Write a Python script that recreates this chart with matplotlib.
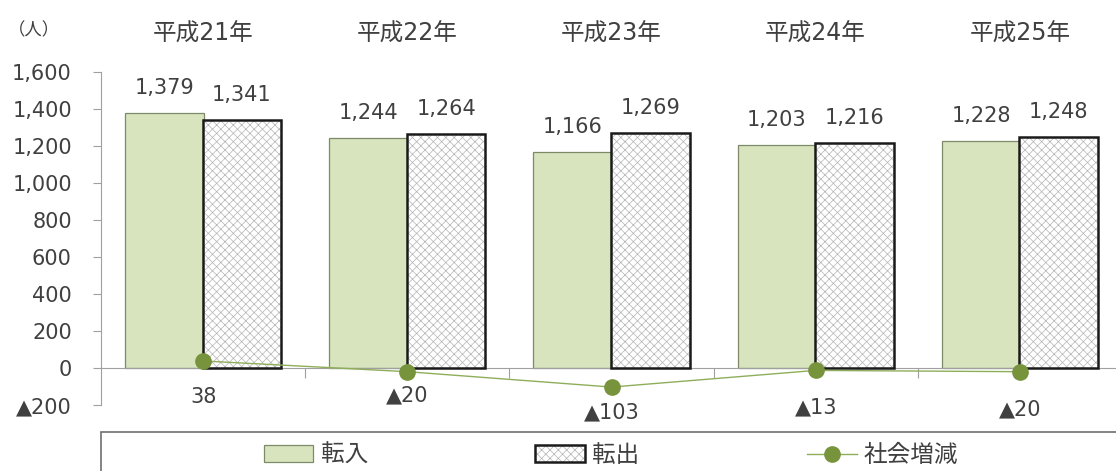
import matplotlib
matplotlib.use("Agg")
import matplotlib.pyplot as plt
from matplotlib.patches import Rectangle
from matplotlib.legend_handler import HandlerTuple
import numpy as np

plt.rcParams['font.family'] = ['DejaVu Sans', 'Noto Sans CJK JP']
plt.rcParams['hatch.linewidth'] = 0.5

# Data
years = ["平成21年", "平成22年", "平成23年", "平成24年", "平成25年"]
moved_in = [1379, 1244, 1166, 1203, 1228]     # 転入
moved_out = [1341, 1264, 1269, 1216, 1248]    # 転出
net_change = [38, -20, -103, -13, -20]        # 社会増減
y_ticks = [-200, 0, 200, 400, 600, 800, 1000, 1200, 1400, 1600]


def fmt(v):
    return ("▲" if v < 0 else "") + f"{abs(v):,}"


W, H = 1116, 471
fig = plt.figure(figsize=(W / 100, H / 100), dpi=100)
ax = fig.add_axes([101 / W, (H - 405) / H, 1021 / W, 333 / H])

x = np.arange(len(years))
bw = 0.385
off = 0.19
text_col = "#404040"
fs = 15
hatch_col = "#b4b4b4"

ax.bar(x - off, moved_in, bw, color="#D7E4BD", edgecolor="#7d8a68", linewidth=0.9, zorder=2)
ax.bar(x + off, moved_out, bw, color="white", edgecolor=hatch_col,
       hatch="xxxx", linewidth=0, zorder=2)
ax.bar(x + off, moved_out, bw, color="none", edgecolor="#1a1a1a", linewidth=1.8, zorder=3)

for xi, v in zip(x - off, moved_in):
    ax.annotate(f"{v:,}", (xi, v), xytext=(0, 11), textcoords="offset points",
                ha="center", va="bottom", fontsize=fs, color=text_col)
for xi, v in zip(x + off, moved_out):
    ax.annotate(f"{v:,}", (xi, v), xytext=(0, 11), textcoords="offset points",
                ha="center", va="bottom", fontsize=fs, color=text_col)

line, = ax.plot(x, net_change, color="#8fae5a", linewidth=1.0, marker="o",
                markersize=11, markerfacecolor="#77933C", markeredgecolor="#77933C", zorder=4)
label_off = [-26, -17, -18, -27, -27]
for xi, v, o in zip(x, net_change, label_off):
    ax.annotate(fmt(v), (xi, v), xytext=(0, o), textcoords="offset points",
                ha="center", va="center", fontsize=fs, color=text_col)

# Year headings above the plot
for xi, name in zip(x, years):
    ax.text(xi, 1.115, name, transform=ax.get_xaxis_transform(), ha="center",
            va="center", fontsize=17, color=text_col)
fig.text(8 / W, (H - 30) / H, "（人）", ha="left", va="center", fontsize=12.5, color=text_col)

ax.set_xlim(-0.5, len(years) - 0.5)
ax.set_ylim(-200, 1600)
ax.set_yticks(y_ticks)
ax.set_yticklabels([fmt(v) for v in y_ticks], fontsize=fs, color=text_col)
ax.tick_params(axis="y", direction="out", length=6, color="#a0a0a0", pad=15)
for s in ("top", "right"):
    ax.spines[s].set_visible(False)
ax.spines["left"].set_color("#a0a0a0")
ax.spines["bottom"].set_position(("data", 0))
ax.spines["bottom"].set_color("#a0a0a0")
ax.set_xticks(np.arange(0.5, len(years) - 0.5, 1.0))
ax.set_xticklabels([])
ax.tick_params(axis="x", direction="out", length=7, color="#a0a0a0")

# Legend frame and entries
fig.patches.append(Rectangle((101 / W, -10 / H), 1021 / W, (471 - 432 + 10) / H,
                             transform=fig.transFigure, fill=False,
                             edgecolor="#707070", linewidth=1.2))
out_handle = (Rectangle((0, 0), 1, 1, facecolor="white", edgecolor=hatch_col, hatch="xxxx", linewidth=0),
              Rectangle((0, 0), 1, 1, facecolor="none", edgecolor="#1a1a1a", linewidth=1.8))
in_handle = Rectangle((0, 0), 1, 1, facecolor="#D7E4BD", edgecolor="#7d8a68", linewidth=0.9)
fig.legend([in_handle, out_handle, line], ["転入", "転出", "社会増減"],
           handler_map={tuple: HandlerTuple(ndivide=1)},
           loc="center", bbox_to_anchor=(611 / W, (H - 455) / H), ncol=3, frameon=False,
           fontsize=17, handlelength=2.1, handletextpad=0.3, columnspacing=7.1,
           labelcolor=text_col)

fig.savefig("out.png", dpi=100)
